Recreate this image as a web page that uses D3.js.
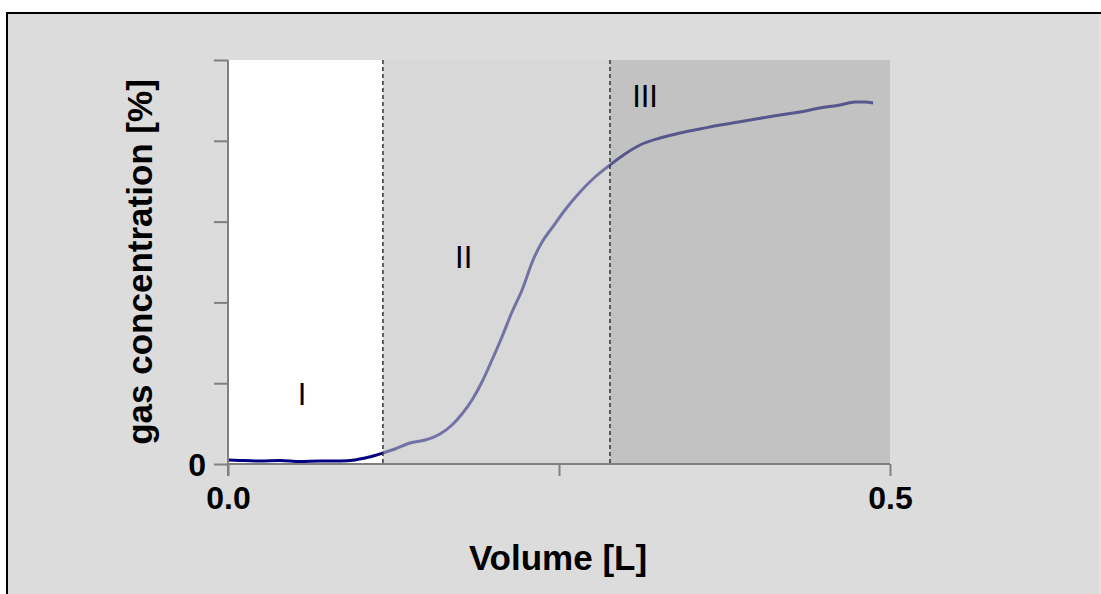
<!DOCTYPE html>
<html>
<head>
<meta charset="utf-8">
<script src="https://cdn.jsdelivr.net/npm/d3@7"></script>
<style>
  html, body { margin: 0; padding: 0; background: #ffffff; }
  svg { display: block; }
  text { font-family: "Liberation Sans", Arial, sans-serif; }
</style>
</head>
<body>
<svg id="chart" width="1101" height="594"></svg>
<script>
// Measured curve: volume [L] vs gas concentration [% of full scale]
const volume = [0, 0.0091, 0.0242, 0.0393, 0.0544, 0.0695, 0.0846, 0.0959, 0.1035, 0.1110,
  0.1171, 0.1261, 0.1375, 0.1488, 0.1601, 0.1692, 0.1767, 0.1843, 0.1918, 0.1994,
  0.2069, 0.2145, 0.2221, 0.2304, 0.2372, 0.2447, 0.2545, 0.2659, 0.2772, 0.2885,
  0.2998, 0.3112, 0.3263, 0.3414, 0.3565, 0.3716, 0.3943, 0.4169, 0.4320, 0.4471,
  0.4622, 0.4736, 0.4811, 0.4872];
const concentration = [0.99, 0.87, 0.74, 0.87, 0.62, 0.74, 0.74, 0.99, 1.49, 2.10,
  2.72, 3.71, 5.20, 5.94, 7.43, 9.65, 12.38, 15.84, 20.30, 25.74,
  31.44, 37.62, 43.07, 50.50, 54.95, 58.42, 62.87, 67.33, 71.04, 74.01,
  76.73, 78.96, 80.69, 81.93, 82.92, 83.91, 85.15, 86.39, 87.13, 88.12,
  88.86, 89.60, 89.60, 89.36];

// Phase boundaries [L] and phase labels
const phaseBounds = [0, 0.117, 0.2885, 0.5];
const phaseNames = ["I", "II", "III"];
const phaseLabelPos = [[0.056, 17.3], [0.178, 51], [0.315, 91]];

const xTicks = [0, 0.25, 0.5];
const xTickLabels = ["0.0", "", "0.5"];
const yTicks = [0, 20, 40, 60, 80, 100];
const yTickLabels = ["0", "", "", "", "", ""];

const svg = d3.select("#chart");
const W = 1101, H = 594;

// panel background with its frame (top and left edges visible)
svg.append("rect").attr("x", 7).attr("y", 13).attr("width", W - 7).attr("height", H - 13)
  .attr("fill", "#dcdcdc");
svg.append("line").attr("x1", 7).attr("x2", W).attr("y1", 13).attr("y2", 13)
  .attr("stroke", "#000").attr("stroke-width", 2);
svg.append("line").attr("x1", 7).attr("x2", 7).attr("y1", 12).attr("y2", H)
  .attr("stroke", "#000").attr("stroke-width", 2);
svg.append("line").attr("x1", W - 1.5).attr("x2", W - 1.5).attr("y1", 14).attr("y2", H)
  .attr("stroke", "#e6e6e6").attr("stroke-width", 1);

const x = d3.scaleLinear().domain([0, 0.5]).range([228, 890]);
const y = d3.scaleLinear().domain([0, 100]).range([464, 60]);

// plot area
svg.append("rect").attr("x", x(0)).attr("y", y(100))
  .attr("width", x(0.5) - x(0)).attr("height", y(0) - y(100)).attr("fill", "#ffffff");

// curve
const line = d3.line().x((d, i) => x(volume[i])).y(d => y(d)).curve(d3.curveMonotoneX);
svg.append("path").datum(concentration).attr("d", line)
  .attr("fill", "none").attr("stroke", "#000080").attr("stroke-width", 3)
  .attr("stroke-linejoin", "round");

// translucent phase shading over phases II and III
const shade = [null, { c: "rgb(190,190,190)", o: 0.6 }, { c: "rgb(150,150,150)", o: 0.58 }];
phaseNames.forEach((n, i) => {
  if (!shade[i]) return;
  svg.append("rect").attr("x", x(phaseBounds[i])).attr("y", y(100))
    .attr("width", x(phaseBounds[i + 1]) - x(phaseBounds[i]))
    .attr("height", y(0) - y(100))
    .attr("fill", shade[i].c).attr("fill-opacity", shade[i].o);
});

// phase boundaries
[phaseBounds[1], phaseBounds[2]].forEach(b => {
  svg.append("line").attr("x1", x(b)).attr("x2", x(b)).attr("y1", y(100)).attr("y2", y(0))
    .attr("stroke", "#333").attr("stroke-width", 1.5).attr("stroke-dasharray", "4,3");
});

// phase labels
phaseNames.forEach((n, i) => {
  svg.append("text").attr("x", x(phaseLabelPos[i][0])).attr("y", y(phaseLabelPos[i][1]))
    .attr("text-anchor", "middle").attr("dominant-baseline", "central")
    .attr("font-size", 31).attr("fill", "#000").text(n);
});

// axes
const xAxis = d3.axisBottom(x).tickValues(xTicks).tickSize(12).tickPadding(10)
  .tickFormat((d, i) => xTickLabels[i]);
const gx = svg.append("g").attr("transform", `translate(0,${y(0)})`).call(xAxis);
const yAxis = d3.axisLeft(y).tickValues(yTicks).tickSize(14).tickPadding(8)
  .tickFormat((d, i) => yTickLabels[i]);
const gy = svg.append("g").attr("transform", `translate(${x(0)},0)`).call(yAxis);

[gx, gy].forEach(g => {
  g.select(".domain").attr("stroke", "#808080").attr("stroke-width", 2);
  g.selectAll(".tick line").attr("stroke", "#808080").attr("stroke-width", 2);
  g.selectAll(".tick text").attr("font-family", "Liberation Sans, Arial, sans-serif")
    .attr("font-weight", "bold").attr("font-size", 32).attr("fill", "#000");
});
gx.select(".domain").attr("d", `M${x(0)},0H${x(0.5)}`);
gy.select(".domain").attr("d", `M0,${y(100)}V${y(0) + 12}`);
gy.selectAll(".tick text").attr("dy", "0.36em");

// axis titles
svg.append("text").attr("x", 558).attr("y", 570).attr("text-anchor", "middle")
  .attr("font-size", 35).attr("font-weight", "bold").text("Volume [L]");
svg.append("text").attr("transform", "translate(152,262) rotate(-90)")
  .attr("text-anchor", "middle").attr("font-size", 35).attr("font-weight", "bold")
  .text("gas concentration [%]");
</script>
</body>
</html>
